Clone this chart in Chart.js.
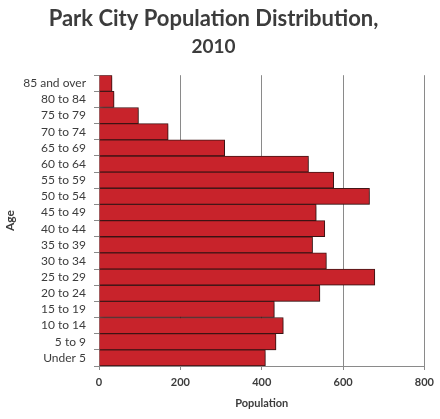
<!DOCTYPE html>
<html>
<head>
<meta charset="utf-8">
<script src="https://cdn.jsdelivr.net/npm/chart.js@4/dist/chart.umd.min.js"></script>
<style>
  html, body { margin: 0; padding: 0; background: #fff; }
  #wrap { width: 440px; height: 419px; }
</style>
</head>
<body>
<div id="wrap"><canvas id="popChart" width="440" height="419"></canvas></div>
<script>
// age groups, top to bottom
const ageGroups = [
  "85 and over", "80 to 84", "75 to 79", "70 to 74", "65 to 69", "60 to 64",
  "55 to 59", "50 to 54", "45 to 49", "40 to 44", "35 to 39", "30 to 34",
  "25 to 29", "20 to 24", "15 to 19", "10 to 14", "5 to 9", "Under 5"
];
const population = [
  32, 37, 97, 170, 309, 515,
  577, 665, 534, 555, 525, 559,
  678, 543, 431, 453, 435, 409
];
const xTicks = [0, 200, 400, 600, 800];

const fontFamily = "Lato, 'Open Sans', sans-serif";
const textColor = "#3c3c3c";
const axisGray = "#8a8a8a";

// soft drop shadow under the bars
const barShadow = {
  id: "barShadow",
  beforeDatasetsDraw(chart) {
    const ctx = chart.ctx;
    ctx.save();
    ctx.shadowColor = "rgba(0,0,0,0.28)";
    ctx.shadowBlur = 3;
    ctx.shadowOffsetX = 2;
    ctx.shadowOffsetY = 2;
  },
  afterDatasetsDraw(chart) {
    chart.ctx.restore();
  }
};

new Chart(document.getElementById("popChart"), {
  type: "bar",
  data: {
    labels: ageGroups,
    datasets: [{
      label: "Population",
      data: population,
      backgroundColor: "#c8232b",
      borderColor: "#451818",
      borderWidth: 1,
      barPercentage: 1,
      categoryPercentage: 1
    }]
  },
  options: {
    indexAxis: "y",
    responsive: false,
    animation: false,
    layout: { padding: { left: 0, right: 13, top: 0, bottom: 0 } },
    plugins: {
      legend: { display: false },
      tooltip: { enabled: false },
      title: {
        display: true,
        text: "Park City Population Distribution,",
        color: textColor,
        font: { family: fontFamily, size: 22, weight: "bold", lineHeight: 1.2 },
        padding: { top: 6, bottom: 3 }
      },
      subtitle: {
        display: true,
        text: "2010",
        color: textColor,
        font: { family: fontFamily, size: 19, weight: "bold", lineHeight: 1.2 },
        padding: { top: 0, bottom: 17 }
      }
    },
    scales: {
      x: {
        min: 0,
        max: 800,
        afterBuildTicks(scale) {
          scale.ticks = xTicks.map(v => ({ value: v }));
        },
        afterFit(scale) { scale.height = 53; },
        grid: {
          color: axisGray,
          lineWidth: 1,
          drawTicks: true,
          tickLength: 4
        },
        border: { display: true, color: axisGray },
        ticks: {
          color: textColor,
          padding: 6,
          font: { family: fontFamily, size: 11, weight: "bold" }
        },
        title: {
          display: true,
          text: "Population",
          color: textColor,
          font: { family: fontFamily, size: 11, weight: "bold", lineHeight: 1.2 },
          padding: { top: 0, bottom: 9 }
        }
      },
      y: {
        afterFit(scale) { scale.width = 99; },
        grid: {
          offset: true,
          drawOnChartArea: false,
          drawTicks: true,
          tickLength: 5,
          color: axisGray
        },
        border: { display: true, color: axisGray },
        ticks: {
          color: textColor,
          padding: 8,
          autoSkip: false,
          font: { family: fontFamily, size: 12 }
        },
        title: {
          display: true,
          text: "Age",
          color: textColor,
          font: { family: fontFamily, size: 12, weight: "bold", lineHeight: 1.2 },
          padding: { top: 3, bottom: 0 }
        }
      }
    }
  },
  plugins: [barShadow]
});
</script>
</body>
</html>
